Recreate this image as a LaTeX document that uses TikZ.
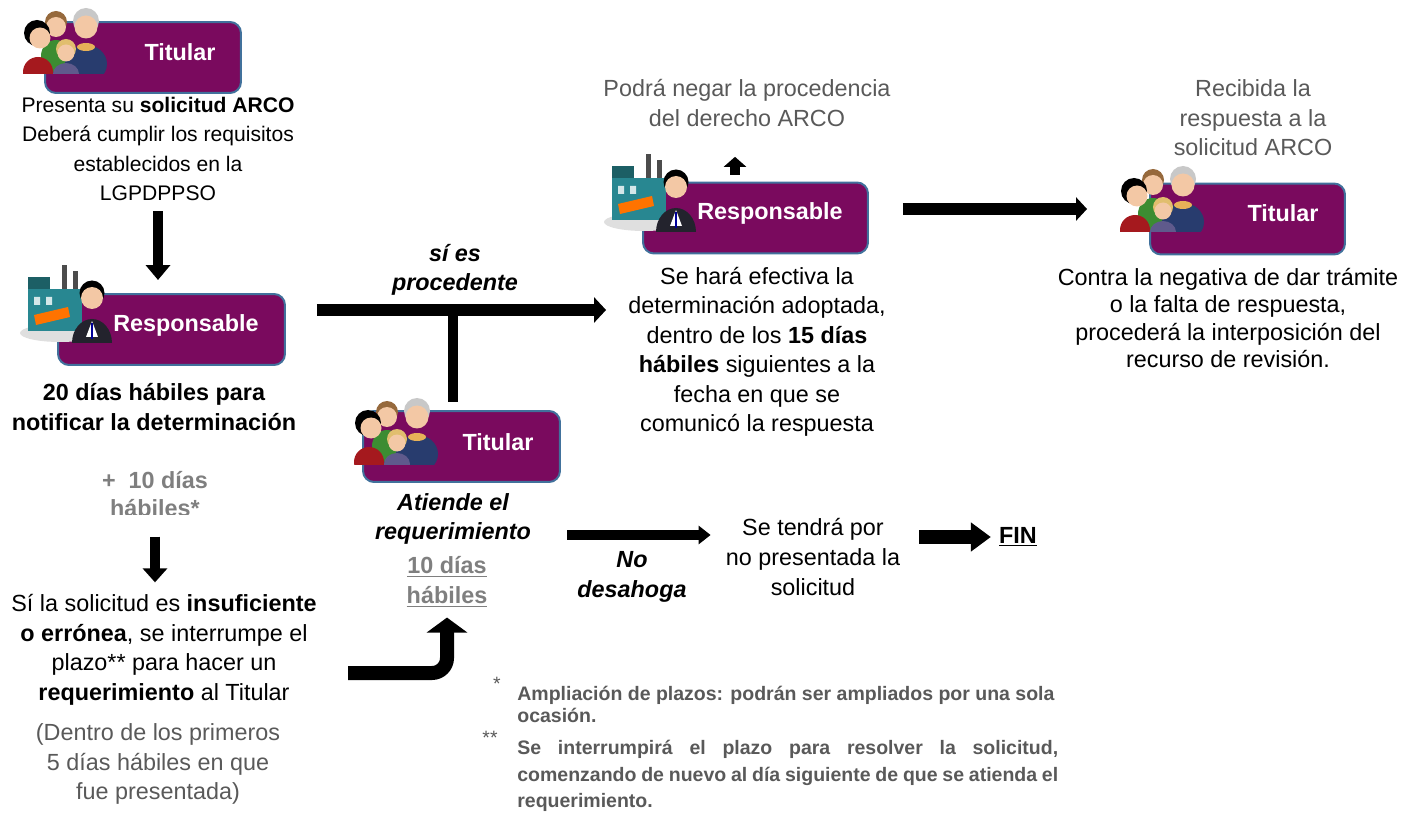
\documentclass[tikz,border=0pt]{standalone}
\usepackage{fontspec}
\setmainfont{Liberation Sans}
\usetikzlibrary{arrows.meta}
\definecolor{morado}{RGB}{122,10,94}
\definecolor{borde}{RGB}{65,113,156}
\definecolor{gris}{RGB}{89,89,89}
\definecolor{grisc}{RGB}{127,127,127}
\definecolor{piel}{RGB}{243,200,165}
\definecolor{pelo}{RGB}{150,105,60}
\definecolor{canas}{RGB}{200,200,200}
\definecolor{rojo}{RGB}{165,25,30}
\definecolor{verde}{RGB}{60,140,50}
\definecolor{azul}{RGB}{40,60,110}
\definecolor{lila}{RGB}{95,90,140}
\definecolor{rubio}{RGB}{225,190,110}
\definecolor{fabrica}{RGB}{40,135,145}
\definecolor{traje}{RGB}{35,35,45}

\tikzset{
  caja/.style = {draw = borde, line width = 0.04cm, fill = morado, rounded corners = 0.22cm,
                 minimum height = 1.42cm, inner sep = 0},
  rotulo/.style = {text = white, inner sep = 0, font = \bfseries\fontsize{13.3}{16}\selectfont},
  texto/.style = {align = center, inner sep = 0, font = \fontsize{13.3}{16.8}\selectfont},
  flecha/.style = {line width = 0.24cm, -{Triangle[length = 0.22cm, width = 0.46cm]}},
  gente/.pic = {
    \begin{scope}
      \clip (-46,-36) rectangle (46,34);
      \fill[verde] (-12,16) ellipse (15 and 16);
      \fill[pelo] (-12,-18) circle (11);
      \fill[piel] (-12,-13) circle (10);
      \fill[azul] (18,24) ellipse (21 and 19);
      \fill[rubio!80!orange] (18,7) ellipse (9 and 4);
      \fill[canas] (18,-19) circle (13);
      \fill[piel] (18,-13) circle (11.5);
      \fill[rojo] (-30,32) ellipse (15 and 15);
      \fill[black] (-31,-7) circle (13);
      \fill[piel] (-28,-2) circle (10.5);
      \fill[lila] (-2,34) ellipse (13 and 11);
      \fill[rubio] (-2,9) circle (10);
      \fill[piel] (-2,13) circle (8.5);
    \end{scope}
  },
  planta/.pic = {
    \begin{scope}
      \clip (-48,-40) rectangle (48,40);
      \fill[gray!25] (-8,30) ellipse (40 and 9);
      \fill[gray!60!black] (-6,-38) rectangle (-1,-12);
      \fill[gray!60!black] (5,-32) rectangle (10,-12);
      \fill[fabrica] (-40,-14) rectangle (14,28);
      \fill[fabrica!70!black] (-40,-26) rectangle (-18,-14);
      \fill[white!80!fabrica] (-34,-6) rectangle (-28,2) (-22,-6) rectangle (-16,2);
      \fill[orange!90!red] (-34,12) -- (0,4) -- (2,14) -- (-32,22) -- cycle;
      \fill[traje] (24,40) ellipse (20 and 24);
      \fill[white] (24,18) -- (18,34) -- (30,34) -- cycle;
      \fill[blue!60!black] (23,20) rectangle (25,36);
      \fill[black] (24,-10) circle (12.5);
      \fill[piel] (24,-5) circle (11);
    \end{scope}
  }
}

\begin{document}
\begin{tikzpicture}[x = 0.02cm, y = -0.02cm]
  \useasboundingbox (0,0) rectangle (1421,824);

  % columna izquierda
  \node (tit1) at (143,57.5) [caja, minimum width = 3.92cm] {};
  \pic at (68,40) {gente};
  \node (tit1t) at (180,52) [rotulo] {Titular};
  \node (txt1) at (158,149) [texto, font = \fontsize{12}{16.8}\selectfont] {Presenta su \textbf{solicitud ARCO}\\Deberá cumplir los requisitos\\establecidos en la\\LGPDPPSO};

  \node (res1) at (171.5,329.5) [caja, minimum width = 4.54cm] {};
  \pic at (68,303) {planta};
  \node (res1t) at (186,325) [rotulo] {Responsable};
  \node (plazo) at (154,407) [texto, font = \bfseries\fontsize{13.3}{16.8}\selectfont] {20 días hábiles para\\notificar la determinación};

  \begin{scope}
    \clip (0,440) rectangle (330,514);
    \node (ampl) at (155,494) [texto, text = grisc, font = \bfseries\fontsize{13.3}{15.5}\selectfont] {+\ \ 10 días\\hábiles*};
  \end{scope}

  \node (insuf) at (164,650) [texto] {Sí la solicitud es \textbf{insuficiente}\\\textbf{o errónea}, se interrumpe el\\plazo** para hacer un\\\textbf{requerimiento} al Titular};
  \node (dentro) at (158,764) [texto, text = gris] {(Dentro de los primeros\\5 días hábiles en que\\fue presentada)};

  % centro
  \node (sies) at (455,270) [texto, font = \bfseries\itshape\fontsize{13.3}{16.8}\selectfont] {sí es\\procedente};
  \coordinate (cruce) at (453,310);

  \node (tit2) at (461.5,446.5) [caja, minimum width = 3.94cm] {};
  \pic at (399,430) {gente};
  \node (tit2t) at (498,442) [rotulo] {Titular};
  \node (atiende) at (453,519) [texto, font = \bfseries\itshape\fontsize{13.3}{16.8}\selectfont] {Atiende el\\requerimiento};
  \node (diez) at (447,582) [texto, text = grisc, font = \bfseries\fontsize{13.3}{16.8}\selectfont] {\underline{10 días}\\\underline{hábiles}};
  \coordinate (codo) at (348,673);

  \coordinate (ns) at (567,535);
  \node (nodes) at (632,577) [texto, font = \bfseries\itshape\fontsize{13.3}{16.8}\selectfont] {No\\desahoga};
  \node (tendra) at (813,557) [texto] {Se tendrá por\\no presentada la\\solicitud};
  \node (fin) at (1018,537) [texto, font = \bfseries\fontsize{13.3}{16.8}\selectfont] {\underline{FIN}};

  % derecha
  \node (negar) at (747,103) [texto, text = gris] {Podrá negar la procedencia\\del derecho ARCO};
  \coordinate (pn) at (735,175);
  \node (res2) at (755.5,218) [caja, minimum width = 4.5cm] {};
  \pic at (652,192) {planta};
  \node (res2t) at (770,213) [rotulo] {Responsable};
  \node (efect) at (757,352) [texto] {Se hará efectiva la\\determinación adoptada,\\dentro de los \textbf{15 días}\\\textbf{hábiles} siguientes a la\\fecha en que se\\comunicó la respuesta};

  \node (recib) at (1253,118) [texto, text = gris] {Recibida la\\respuesta a la\\solicitud ARCO};
  \node (tit3) at (1247.5,219) [caja, minimum width = 3.9cm] {};
  \pic at (1165,198) {gente};
  \node (tit3t) at (1283,213) [rotulo] {Titular};
  \node (contra) at (1228,318) [texto, font = \fontsize{13.3}{15.4}\selectfont] {Contra la negativa de dar trámite\\o la falta de respuesta,\\procederá la interposición del\\recurso de revisión.};

  % notas
  \node (ast1) at (497,684) [texto, text = gris, font = \fontsize{11}{13}\selectfont] {*};
  \node (nota1) at (517,686) [anchor = north west, inner sep = 0, text = gris, align = left,
      font = \bfseries\fontsize{11.1}{12.6}\selectfont] {Ampliación de plazos: podrán ser ampliados por una sola\\ocasión.};
  \node (ast2) at (490,738) [texto, text = gris, font = \fontsize{11}{13}\selectfont] {**};
  \node (nota2) at (517,740) [anchor = north west, inner sep = 0, text = gris, text width = 10.82cm, align = justify,
      font = \bfseries\fontsize{11.1}{15}\selectfont] {Se interrumpirá el plazo para resolver la solicitud,\linebreak comenzando de nuevo al día siguiente de que se atienda el\linebreak requerimiento.};

  % flechas
  \draw[line width = 0.2cm, -{Triangle[length = 0.3cm, width = 0.48cm]}, shorten <= 0.2cm, shorten >= 0.26cm] (txt1.south) -- (txt1.south |- res1.north);
  \draw[line width = 0.2cm, -{Triangle[length = 0.28cm, width = 0.48cm]}, shorten <= 0.4cm, shorten >= 0.24cm] (ampl.south) -- (ampl.south |- insuf.north);
  \draw[line width = 0.26cm, -{Triangle[length = 0.24cm, width = 0.5cm]}, shorten <= 0.62cm, shorten >= 0.44cm] (res1.east |- cruce) -- (cruce -| efect.west);
  \draw[line width = 0.2cm, shorten >= 0.16cm] (cruce) -- (cruce |- tit2.north);
  \draw[line width = 0.28cm, rounded corners = 0.3cm, -{Triangle[length = 0.3cm, width = 0.8cm]}, shorten >= 0.2cm] (codo) -| (diez.south);
  \draw[line width = 0.2cm, -{Triangle[length = 0.24cm, width = 0.36cm]}, shorten >= 0.3cm] (ns) -- (ns -| tendra.west);
  \draw[line width = 0.28cm, -{Triangle[length = 0.4cm, width = 0.56cm]}, shorten <= 0.38cm, shorten >= 0.16cm] (tendra.east |- fin) -- (fin.west);
  \draw[line width = 0.2cm, -{Triangle[length = 0.2cm, width = 0.44cm]}, shorten >= 0.6cm] (pn) -- (pn |- negar.south);
  \draw[flecha, shorten <= 0.68cm, shorten >= 1.24cm] ([yshift = 0.18cm]res2.east) -- ([yshift = 0.18cm]res2.east -| tit3.west);
\end{tikzpicture}
\end{document}
